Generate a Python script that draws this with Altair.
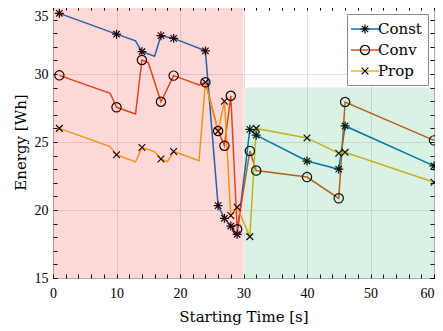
import altair as alt
import pandas as pd

series_names = ["Const", "Conv", "Prop"]
series_colors = ["#0072BD", "#D95319", "#EDB120"]
marker_names = ["Const ", "Conv ", "Prop "]

const_time = [1, 10, 13, 14, 16, 17, 19, 24, 26, 27, 28, 29, 31, 32, 40, 45, 46, 60]
const_energy = [34.46, 32.93, 32.44, 31.64, 31.30, 32.82, 32.62, 31.70, 20.32, 19.39,
                18.82, 18.21, 25.93, 25.50, 23.60, 23.00, 26.18, 23.24]
const_marked = [1, 1, 0, 1, 0, 1, 1, 1, 1, 1, 1, 1, 1, 1, 1, 1, 1, 1]

conv_time = [1, 9, 10, 13, 14, 15, 17, 19, 23, 24, 26, 27, 28, 29, 31, 32, 40, 45, 46, 60]
conv_energy = [29.90, 28.58, 27.55, 27.06, 31.03, 30.85, 27.96, 29.88, 29.20, 29.39,
               25.81, 24.73, 28.40, 18.58, 24.34, 22.90, 22.42, 20.86, 27.94, 25.12]
conv_marked = [1, 0, 1, 0, 1, 0, 1, 1, 0, 1, 1, 1, 1, 1, 1, 1, 1, 1, 1, 1]

prop_time = [1, 9, 10, 13, 14, 16, 17, 18, 19, 23, 24, 26, 27, 28, 29, 31, 32, 40, 45, 46, 60]
prop_energy = [26.00, 24.66, 24.06, 23.54, 24.60, 24.29, 23.75, 23.55, 24.30, 23.62, 29.40,
               25.80, 28.00, 19.60, 20.20, 18.04, 26.00, 25.30, 24.17, 24.24, 22.04]
prop_marked = [1, 0, 1, 0, 1, 0, 1, 0, 1, 0, 1, 1, 1, 1, 1, 1, 1, 1, 1, 1, 1]

region_start = [0, 30.25]
region_end = [30, 60]
region_bottom = [15, 15]
region_top = [35, 29]
region_fill = ["#ff0000", "#00a844"]

x_ticks = list(range(0, 61, 2))
y_ticks = list(range(15, 36, 1))

# marker shapes (unit paths, scaled by sqrt(size)/2)
marker_paths = [
    "M-0.56,0L0.56,0M0,-0.56L0,0.56M-0.4,-0.4L0.4,0.4M-0.4,0.4L0.4,-0.4",
    "M0.58,0A0.58,0.58,0,1,1,-0.58,0A0.58,0.58,0,1,1,0.58,0Z",
    "M-0.42,-0.42L0.42,0.42M-0.42,0.42L0.42,-0.42",
]

rows = []
for name, mname, ts, es, ms in [
    (series_names[0], marker_names[0], const_time, const_energy, const_marked),
    (series_names[1], marker_names[1], conv_time, conv_energy, conv_marked),
    (series_names[2], marker_names[2], prop_time, prop_energy, prop_marked),
]:
    for t, e, m in zip(ts, es, ms):
        rows.append({"series": name, "marker": mname, "t": t, "e": e, "marked": m})
df = pd.DataFrame(rows)

regions = pd.DataFrame({
    "start": region_start, "end": region_end,
    "bottom": region_bottom, "top": region_top, "fill": region_fill,
})

LABEL_FONT = "Liberation Serif"
TITLE_FONT = "DejaVu Serif"

xscale = alt.Scale(domain=[0, 60], nice=False)
yscale = alt.Scale(domain=[15, 35], nice=False)

x_axis = alt.Axis(
    values=x_ticks, tickCount=200, format="d",
    labelExpr="datum.value % 10 === 0 ? datum.label : ''",
    labelOverlap=False, labelFlush=False,
    labelAlign={"condition": {"test": "datum.value === 60", "value": "right"}, "value": "center"},
    tickSize=4, offset=-4, domain=False, grid=True,
    gridOpacity={"condition": {"test": "datum.value % 10 === 0", "value": 1}, "value": 0},
    labelPadding=8, title="Starting Time [s]", titlePadding=9,
)
y_axis = alt.Axis(
    values=y_ticks, tickCount=200, format="d",
    labelExpr="datum.value % 5 === 0 ? datum.label : ''",
    labelOverlap=False, labelFlush=False,
    labelBaseline={"condition": {"test": "datum.value === 35", "value": "top"}, "value": "middle"},
    labelOffset={"condition": {"test": "datum.value === 35", "value": 3}, "value": 0},
    tickSize=4, offset=-4, domain=False, grid=True,
    gridOpacity={"condition": {"test": "datum.value % 5 === 0", "value": 1}, "value": 0},
    labelPadding=5, title="Energy [Wh]", titlePadding=6,
)

legend_common = dict(
    orient="none", legendX=294, legendY=8, title=None,
    symbolSize=256, padding=6, symbolOffset=3, labelOffset=4,
    labelFont=TITLE_FONT, labelFontSize=15, labelColor="black", rowPadding=4,
)

base = alt.Chart(df)

lines = base.mark_line(strokeWidth=1.5).encode(
    x=alt.X("t:Q", scale=xscale, axis=x_axis),
    y=alt.Y("e:Q", scale=yscale, axis=y_axis),
    color=alt.Color(
        "series:N",
        scale=alt.Scale(domain=series_names, range=series_colors),
        legend=alt.Legend(
            symbolType="M-1.75,0L1.75,0", symbolStrokeWidth=1.5,
            fillColor="white", strokeColor="#8c8c8c", zindex=0, **legend_common,
        ),
    ),
    order="t:Q",
)

points = base.transform_filter("datum.marked == 1").mark_point(
    filled=False, color="black", size=256, strokeWidth=1.2, opacity=1
).encode(
    x=alt.X("t:Q", scale=xscale),
    y=alt.Y("e:Q", scale=yscale),
    shape=alt.Shape(
        "marker:N",
        scale=alt.Scale(domain=marker_names, range=marker_paths),
        legend=alt.Legend(
            symbolStrokeColor="black", symbolStrokeWidth=1.2,
            labelOpacity=0, zindex=1, **legend_common,
        ),
    ),
)

side_axis_x = alt.Axis(orient="top", values=x_ticks, tickCount=200, labels=False, tickSize=4,
                       offset=-4, domain=False, grid=False, title=None)
side_axis_y = alt.Axis(orient="right", values=y_ticks, tickCount=200, labels=False, tickSize=4,
                       offset=-4, domain=False, grid=False, title=None)

rects = alt.Chart(regions).mark_rect(opacity=0.15).encode(
    x=alt.X("start:Q", scale=alt.Scale(domain=[0, 60], nice=False), axis=side_axis_x),
    x2="end:Q",
    y=alt.Y("bottom:Q", scale=alt.Scale(domain=[15, 35], nice=False), axis=side_axis_y),
    y2="top:Q",
    fill=alt.Fill("fill:N", scale=None),
)

chart = alt.layer(alt.layer(lines, points), rects).resolve_scale(
    x="independent", y="independent"
).resolve_legend(
    color="independent", shape="independent"
).properties(
    width=381, height=272,
    autosize=alt.AutoSizeParams(type="none"),
    padding={"left": 45, "top": -2, "right": 1, "bottom": 50},
    background="white",
).configure_view(
    stroke="black", strokeWidth=1,
).configure_axis(
    labelFont=LABEL_FONT, labelFontSize=14, labelColor="black",
    titleFont=TITLE_FONT, titleFontSize=15, titleFontWeight="normal", titleColor="black",
    tickColor="black", tickWidth=1, gridColor="#dcdcdc", gridWidth=0.8,
)

chart.save("out.html", embed_options={"renderer": "svg", "actions": False})
